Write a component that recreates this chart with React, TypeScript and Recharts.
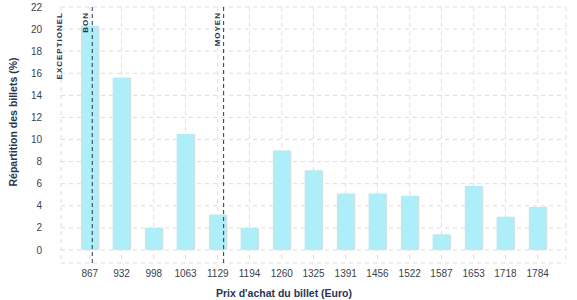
import React from "react";
import {
  BarChart,
  Bar,
  XAxis,
  YAxis,
  CartesianGrid,
  ReferenceLine,
  Label,
} from "recharts";

// prix d'achat du billet (Euro)
const prices = [867, 932, 998, 1063, 1129, 1194, 1260, 1325, 1391, 1456, 1522, 1587, 1653, 1718, 1784];
// répartition des billets (%)
const shares = [20.3, 15.6, 2.0, 10.5, 3.2, 2.0, 9.0, 7.2, 5.1, 5.1, 4.9, 1.4, 5.8, 3.0, 3.9];
const yTicks = [0, 2, 4, 6, 8, 10, 12, 14, 16, 18, 20, 22];

const markers = [
  { name: "EXCEPTIONEL", price: 818, visible: false },
  { name: "BON", price: 872, visible: true },
  { name: "MOYEN", price: 1141, visible: true },
];

const data = prices.map((p, i) => ({ price: p, share: shares[i] }));

const FONT = "'Liberation Sans', Arial, sans-serif";
const NAVY = "#2b3552";

const ShadowBar = (props: any) => {
  const { x, y, width, height } = props;
  if (!height) return null;
  return (
    <g>
      <rect x={x + 1.5} y={y} width={width} height={height} fill="#dcdcdc" />
      <rect x={x} y={y} width={width} height={height} fill="#aeeef8" />
    </g>
  );
};

const markerLabel = (name: string) => (props: any) => {
  const vb = props.viewBox;
  const x = vb.x - 4;
  const y = vb.y + 5;
  return (
    <text
      x={x}
      y={y}
      transform={`rotate(-90 ${x} ${y})`}
      textAnchor="end"
      fontFamily={FONT}
      fontSize={8}
      fontWeight="bold"
      letterSpacing={1}
      fill={NAVY}
    >
      {name}
    </text>
  );
};

const App: React.FC = () => {
  return (
    <div style={{ position: "absolute", left: 0, top: 0, width: 577, height: 300, background: "#fff" }}>
      <BarChart
        width={577}
        height={300}
        data={data}
        margin={{ top: 7, right: 11, bottom: 0, left: 0 }}
        barSize={17}
      >
        <CartesianGrid stroke="#dddddd" strokeDasharray="4 4" />
        <XAxis
          dataKey="price"
          type="number"
          height={37}
          domain={[808, 1842]}
          ticks={prices}
          interval={0}
          allowDataOverflow
          axisLine={false}
          tickLine={false}
          tickSize={0}
          tickMargin={7}
          tick={{ fontFamily: FONT, fontSize: 10, fill: "#3a3f4c" }}
        >
          <Label
            content={() => (
              <text x={284} y={297} textAnchor="middle" fontFamily={FONT} fontSize={10.5} fontWeight="bold" fill={NAVY}>
                Prix d'achat du billet (Euro)
              </text>
            )}
          />
        </XAxis>
        <YAxis
          width={61}
          domain={[-1.18, 22]}
          ticks={yTicks}
          interval={0}
          allowDataOverflow
          axisLine={false}
          tickLine={false}
          tickSize={0}
          tickMargin={19}
          tick={{ fontFamily: FONT, fontSize: 10, fill: "#3a3f4c" }}
        >
          <Label
            content={() => (
              <text
                x={17}
                y={122}
                transform="rotate(-90 17 122)"
                textAnchor="middle"
                fontFamily={FONT}
                fontSize={10.5}
                fontWeight="bold"
                fill={NAVY}
              >
                Répartition des billets (%)
              </text>
            )}
          />
        </YAxis>
        <Bar dataKey="share" shape={ShadowBar} isAnimationActive={false} />
        {markers.map((m) => (
          <ReferenceLine
            key={m.name}
            x={m.price}
            stroke={NAVY}
            strokeOpacity={m.visible ? 1 : 0}
            strokeDasharray="4 3"
            label={markerLabel(m.name)}
          />
        ))}
      </BarChart>
    </div>
  );
};

export default App;
